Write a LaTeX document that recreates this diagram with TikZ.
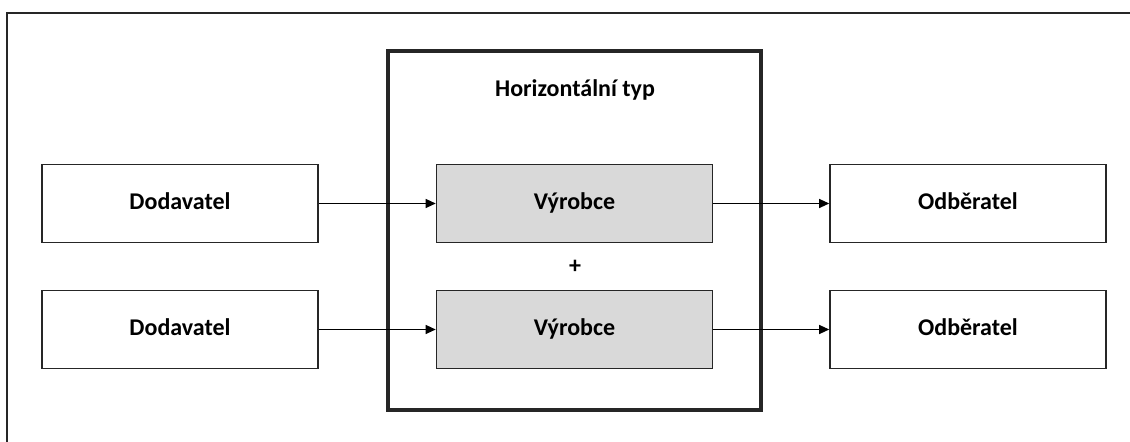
\documentclass[tikz,border=0pt]{standalone}
\usepackage{fontspec}
\setmainfont{Carlito}
\usepackage{tikz}
\usetikzlibrary{arrows.meta}
\definecolor{boxgray}{HTML}{D9D9D9}
\tikzset{t/.style={font=\fontsize{12}{14}\selectfont\bfseries, text height=1.6ex, text depth=0.3ex},
        b/.style={t, minimum width=138pt, minimum height=39pt, draw=black!85, line width=0.8pt, fill=white, inner sep=0pt},
        g/.style={b, fill=boxgray},
        arr/.style={-{Triangle[length=5pt,width=4.5pt]}, line width=0.6pt}}

\begin{document}
\begin{tikzpicture}[x=0.5pt, y=-0.5pt]
    \clip (0,0) rectangle (1130,442);
    \draw[line width=1pt, draw=black!85] (7,13) rectangle (1140,450);

    \node (horiz) at (574.5,230.5) [draw=black!85, line width=1.6pt, minimum width=186.5pt, minimum height=179.5pt] {};
    \node (title) at (575,90) [t] {Horizontální typ};
    \node (plus) at (575,267) [t] {+};

    \foreach \y/\i in {203.5/1,329.5/2} {
        \node (dod\i) at (180,\y) [b] {Dodavatel};
        \node (vyr\i) at (574.5,\y) [g] {Výrobce};
        \node (odb\i) at (968,\y) [b] {Odběratel};
    }

    \foreach \i in {1,2} {
        \draw[arr] (dod\i) -- (vyr\i);
        \draw[arr] (vyr\i) -- (odb\i);
    }
\end{tikzpicture}
\end{document}
